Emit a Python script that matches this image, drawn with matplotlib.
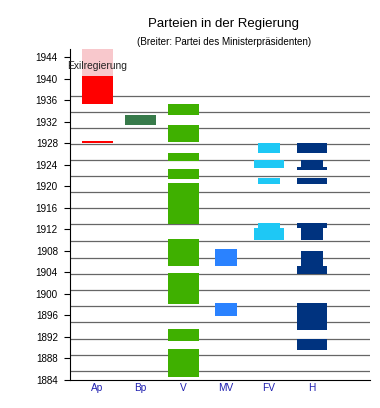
import matplotlib
matplotlib.use("Agg")
import matplotlib.pyplot as plt

plt.rcParams['font.family'] = ['Liberation Sans', 'DejaVu Sans']

parties = ["Ap", "Bp", "V", "MV", "FV", "H"]
colors = ["#ff0000", "#377a4a", "#3fb000", "#2a82ff", "#1ec8f5", "#00337f"]

# (start, end) in years; wide = party of the prime minister, narrow = coalition member
wide = {
    "Ap": [(1927.95, 1928.35), (1935.25, 1940.4)],
    "Bp": [(1931.4, 1933.3)],
    "V": [(1884.6, 1889.7), (1891.25, 1893.45), (1898.15, 1903.9),
          (1905.25, 1910.2), (1913.05, 1920.55), (1921.4, 1923.25),
          (1924.6, 1926.25), (1928.15, 1931.4), (1933.15, 1935.3)],
    "MV": [],
    "FV": [(1910.05, 1912.2), (1923.3, 1924.9)],
    "H": [(1889.6, 1891.55), (1893.3, 1898.35), (1903.7, 1905.25),
          (1912.2, 1913.15), (1920.45, 1921.5), (1923.05, 1923.5),
          (1926.2, 1928.0)],
}
narrow = {
    "Ap": [], "Bp": [], "V": [],
    "MV": [(1895.95, 1898.25), (1905.25, 1908.35)],
    "FV": [(1912.2, 1913.15), (1920.45, 1921.5), (1926.15, 1928.0)],
    "H": [(1905.25, 1908.05), (1910.05, 1912.2), (1923.5, 1924.9)],
}
exile = (1940.4, 1945.5)

# election dates (grey lines)
elections = [1885.67, 1888.59, 1891.57, 1894.73, 1897.76, 1900.68, 1903.65,
             1906.63, 1909.85, 1913.01, 1915.93, 1918.90, 1921.93, 1924.91,
             1927.83, 1930.80, 1933.83, 1936.80]

yticks = list(range(1884, 1945, 4))

fig = plt.figure(figsize=(3.8, 4.08), dpi=100)
ax = fig.add_axes([70 / 380, 28 / 408, 300 / 380, 331 / 408])

for e in elections:
    ax.axhline(e, color="#666666", lw=0.9, zorder=1)

for i, p in enumerate(parties):
    for s, t in wide[p]:
        ax.bar(i, t - s, bottom=s, width=0.72, color=colors[i], zorder=2)
    for s, t in narrow[p]:
        ax.bar(i, t - s, bottom=s, width=0.49, color=colors[i], zorder=2)

ax.bar(0, exile[1] - exile[0], bottom=exile[0], width=0.72, color="#f8c8cc", zorder=2)
ax.text(0, 1942.4, "Exilregierung", ha="center", va="center", fontsize=7.4,
        color="#222222", zorder=3)

ax.set_xlim(-0.63, 6.35)
ax.set_ylim(1884, 1945.5)
ax.set_yticks(yticks)
ax.set_xticks(range(len(parties)))
ax.set_xticklabels(parties, color="#2020b0", fontsize=7.3)
ax.tick_params(axis="x", length=0, pad=2.5)
ax.tick_params(axis="y", length=4.3, width=0.8, pad=4.5, labelsize=7.1)
for side in ["top", "right"]:
    ax.spines[side].set_visible(False)

fig.text(0.589, 0.9404, "Parteien in der Regierung", ha="center", va="center", fontsize=9.5)
fig.text(0.589, 0.898, "(Breiter: Partei des Ministerpräsidenten)", ha="center",
         va="center", fontsize=7.1)

fig.savefig("out.png", dpi=100)
